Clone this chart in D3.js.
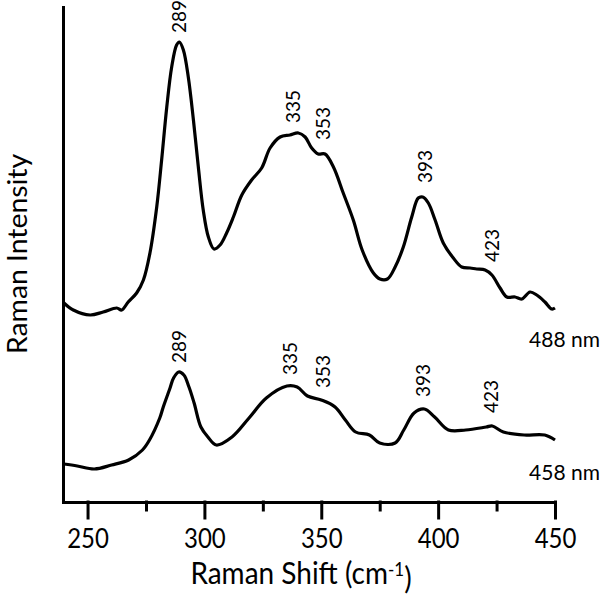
<!DOCTYPE html>
<meta charset="utf-8">
<style>

body {
  margin: 0;
  background: #fff;
}

text {
  font-family: Lato, "Open Sans", sans-serif;
  fill: #000;
}

.axis path,
.axis line {
  stroke: #000;
  stroke-width: 3px;
  stroke-linecap: square;
}

.axis text {
  font-size: 24px;
}

.spectrum {
  fill: none;
  stroke: #000;
  stroke-width: 3.2px;
  stroke-linejoin: round;
}

.peak {
  font-size: 19px;
}

.series-name {
  font-size: 21px;
}

.title {
  font-size: 28px;
}

</style>
<svg width="600" height="596"></svg>
<script src="https://cdnjs.cloudflare.com/ajax/libs/d3/7.8.5/d3.min.js"></script>
<script>

// tick labels of the shift axis
var shiftTicks = [250, 300, 350, 400, 450];
var minorTicks = [275, 325, 375, 425];

// 488 nm spectrum (Raman shift in cm-1, intensity in arbitrary units)
var shift488 = [239.9, 243.9, 251.1, 256.7, 262.5, 264.6, 267.4, 271.0, 273.9, 276.7,
  279.6, 281.7, 283.9, 286.0, 288.1, 289.3, 291.0, 293.1, 295.3, 297.4,
  299.5, 301.7, 304.1, 306.7, 309.5, 312.4, 316.0, 320.2, 324.5, 328.1,
  332.4, 336.6, 340.2, 343.1, 345.9, 348.7, 351.6, 355.2, 359.4, 363.7,
  367.5, 372.3, 375.1, 378.3, 381.6, 385.1, 388.7, 391.5, 393.4, 395.8,
  398.7, 402.2, 406.5, 410.1, 413.7, 416.5, 420.1, 423.0, 426.5, 429.4,
  432.9, 435.8, 439.3, 442.2, 445.7, 448.6, 450.0];
var int488 = [199, 192, 187, 190, 194, 192, 200, 209, 222, 249,
  295, 342, 395, 435, 457, 460, 452, 425, 382, 335,
  292, 265, 253, 257, 269, 285, 307, 322, 334, 354,
  365, 367, 369, 365, 354, 348, 348, 335, 309, 282,
  252, 229, 223, 223, 235, 255, 285, 304, 305, 299,
  282, 259, 244, 235, 234, 233, 232, 227, 214, 205,
  205, 203, 210, 207, 200, 193, 194];

// 458 nm spectrum
var shift458 = [239.9, 245.6, 252.9, 260.3, 267.6, 273.5, 276.5, 280.9, 282.4, 285.3,
  286.8, 289.0, 291.2, 293.4, 295.6, 298.5, 301.5, 305.1, 311.8, 319.1,
  326.5, 335.3, 339.7, 344.1, 350.0, 355.9, 360.3, 364.7, 370.6, 375.0,
  381.6, 385.3, 389.7, 394.1, 398.5, 404.4, 411.8, 420.6, 423.2, 427.9,
  436.8, 445.6, 450.0];
var int458 = [38, 36, 33, 37, 42, 52, 62, 84, 95, 114,
  124, 130, 127, 115, 99, 75, 65, 57, 65, 84,
  104, 116, 115, 106, 102, 95, 82, 70, 67, 59,
  59, 72, 89, 93, 85, 72, 72, 75, 76, 70,
  67, 67, 62];

// peak annotations
var peakLabels = ["289", "335", "353", "393", "423"];
var labelShift488 = [289.3, 337.9, 350.7, 394.4, 423.1];
var labelInt488 = [469, 379, 362, 319, 240];
var labelShift458 = [289.0, 336.8, 350.7, 393.4, 422.8];
var labelInt458 = [139, 127, 114, 105, 89];

var seriesNames = ["488 nm", "458 nm"];
var nameShift = [438.9, 438.9];
var nameInt = [155, 22];

// horizontal text in the original looks a bit taller than Lato
var stretch = 1.1;

var svg = d3.select("svg");

var x = d3.scaleLinear()
    .domain([239.5, 450])
    .range([63, 555]);

var y = d3.scaleLinear()
    .domain([0, 495])
    .range([502, 7]);

var line = d3.line()
    .x(function(d) { return x(d[0]); })
    .y(function(d) { return y(d[1]); })
    .curve(d3.curveCatmullRom.alpha(0.5));

// axes
svg.append("g")
    .attr("class", "axis")
    .attr("transform", "translate(0,502)")
    .call(d3.axisBottom(x).tickValues(minorTicks).tickSize(8).tickSizeOuter(0).tickFormat(""))
    .select(".domain").remove();

var xAxis = svg.append("g")
    .attr("class", "axis")
    .attr("transform", "translate(0,502)")
    .call(d3.axisBottom(x).tickValues(shiftTicks).tickSize(16).tickSizeOuter(0));

xAxis.selectAll(".tick text")
    .attr("y", null)
    .attr("dy", null)
    .attr("transform", "translate(0,46) scale(1," + stretch + ")");

svg.append("g")
    .attr("class", "axis")
    .attr("transform", "translate(63,0)")
    .call(d3.axisLeft(y).tickValues([]).tickSizeOuter(0));

// spectra
svg.append("path")
    .datum(d3.zip(shift488, int488))
    .attr("class", "spectrum")
    .attr("d", line);

svg.append("path")
    .datum(d3.zip(shift458, int458))
    .attr("class", "spectrum")
    .attr("d", line);

function addPeaks(shifts, ints) {
  svg.append("g").selectAll("text")
    .data(peakLabels)
    .enter().append("text")
      .attr("class", "peak")
      .attr("transform", function(d, i) {
        return "translate(" + x(shifts[i]) + "," + y(ints[i]) + ") rotate(-90)";
      })
      .attr("dy", "0.36em")
      .text(function(d) { return d; });
}
addPeaks(labelShift488, labelInt488);
addPeaks(labelShift458, labelInt458);

svg.append("g").selectAll("text")
  .data(seriesNames)
  .enter().append("text")
    .attr("class", "series-name")
    .attr("x", function(d, i) { return x(nameShift[i]); })
    .attr("y", function(d, i) { return y(nameInt[i]); })
    .text(function(d) { return d; });

// axis titles
var xt = svg.append("text")
    .attr("class", "title")
    .attr("transform", "translate(301,584) scale(1," + stretch + ")")
    .attr("text-anchor", "middle")
    .text("Raman Shift (cm");
xt.append("tspan")
    .attr("dy", "-0.45em")
    .style("font-size", "17px")
    .text("-1");
xt.append("tspan")
    .attr("dy", "0.45em")
    .text(")");

svg.append("text")
    .attr("class", "title")
    .style("font-size", "27px")
    .attr("transform", "translate(27,254) rotate(-90) scale(1.05,1)")
    .attr("text-anchor", "middle")
    .text("Raman Intensity");

</script>
